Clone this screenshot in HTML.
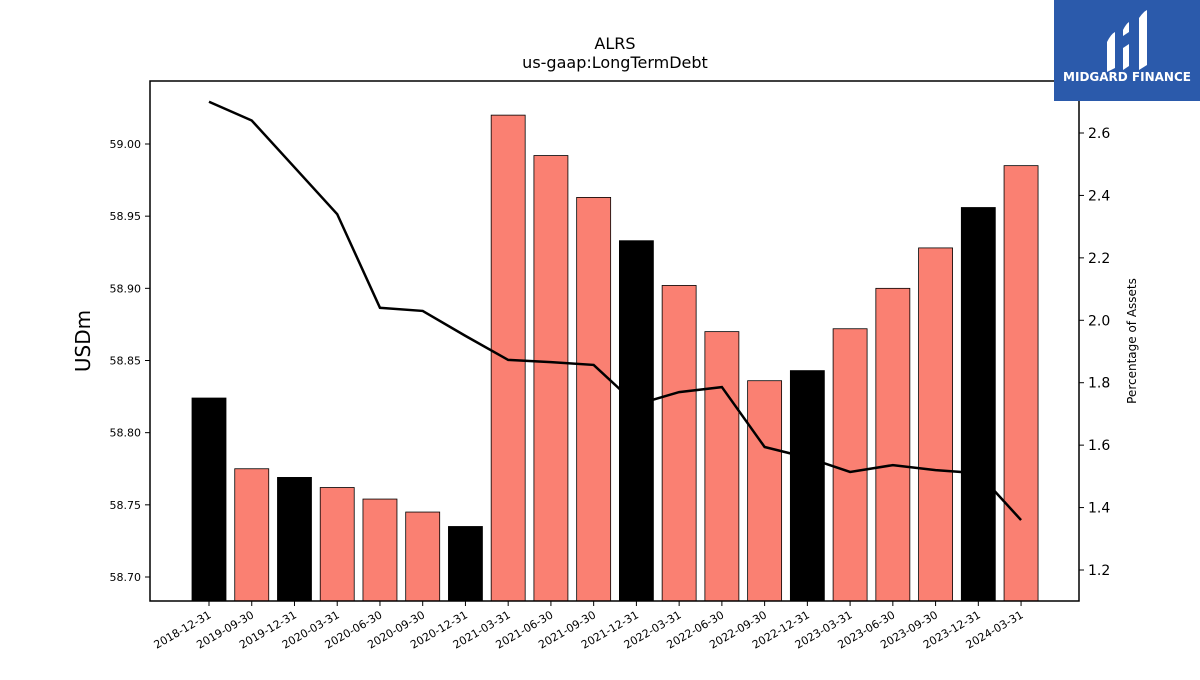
<!DOCTYPE html>
<html><head><meta charset="utf-8"><style>
body{margin:0;background:#fff;font-family:"Liberation Sans","DejaVu Sans",sans-serif;}
svg text{font-family:"DejaVu Sans","Liberation Sans",sans-serif;}
</style></head><body>
<svg id="c" width="1200" height="675" xmlns="http://www.w3.org/2000/svg">
<text x="615" y="49" text-anchor="middle" font-size="16">ALRS</text>
<text x="615" y="68" text-anchor="middle" font-size="16">us-gaap:LongTermDebt</text>
<g id="bars"></g>
<g id="line"></g>
<rect x="150" y="81" width="929" height="520" fill="none" stroke="#000" stroke-width="1.5"/>
<g id="axes"></g>
<text transform="translate(90,341) rotate(-90)" text-anchor="middle" font-size="20">USDm</text>
<text transform="translate(1136,341) rotate(-90)" text-anchor="middle" font-size="12">Percentage of Assets</text>
<g>
<rect x="1054" y="0" width="146" height="101" fill="#2b5aab"/>
<path d="M1107 42 q4 -8 8 -10 v36 l-8 4z M1123 30 q3 -6 6 -8 v10 l-6 4z M1123 48 l6 -4 v22 l-6 4z M1139 18 q4 -6 8 -8 v55 l-8 5z" fill="#fff"/>
<text x="1127" y="81" text-anchor="middle" font-size="12" font-weight="bold" fill="#fff" font-family="Liberation Sans, sans-serif">MIDGARD FINANCE</text>
</g>
</svg>
<script>
const categories=["2018-12-31","2019-09-30","2019-12-31","2020-03-31","2020-06-30","2020-09-30","2020-12-31","2021-03-31","2021-06-30","2021-09-30","2021-12-31","2022-03-31","2022-06-30","2022-09-30","2022-12-31","2023-03-31","2023-06-30","2023-09-30","2023-12-31","2024-03-31"];
const debtValues=[58.824,58.775,58.769,58.762,58.754,58.745,58.735,59.020,58.992,58.963,58.933,58.902,58.870,58.836,58.843,58.872,58.900,58.928,58.956,58.985];
const pctValues=[2.70,2.64,2.49,2.34,2.04,2.03,1.95,1.873,1.866,1.857,1.73,1.77,1.786,1.594,1.56,1.514,1.536,1.52,1.51,1.36];
const leftTicks=[58.70,58.75,58.80,58.85,58.90,58.95,59.00];
const rightTicks=[1.2,1.4,1.6,1.8,2.0,2.2,2.4,2.6];
const NS="http://www.w3.org/2000/svg";
const yL=v=>144+(59.00-v)*1443.33;
const yR=v=>133+(2.6-v)*312.14;
const xC=i=>209+i*42.74;
const bottom=601;
function mk(t,a,p){const e=document.createElementNS(NS,t);for(const k in a)e.setAttribute(k,a[k]);p.appendChild(e);return e;}
const bars=document.getElementById('bars'),line=document.getElementById('line'),axes=document.getElementById('axes');
debtValues.forEach((v,i)=>{
 const y=yL(v);
 const r=mk('rect',{x:xC(i)-17,y:y,width:34,height:bottom-y,fill:categories[i].endsWith('12-31')?'#000':'#fa8072',stroke:'#000','stroke-width':0.8},bars);
 
 
});
const pl=mk('polyline',{points:pctValues.map((v,i)=>xC(i)+','+yR(v)).join(' '),fill:'none',stroke:'#000','stroke-width':2.5},line);


leftTicks.forEach(v=>{
 const y=yL(v);
 mk('line',{x1:145,x2:150,y1:y,y2:y,stroke:'#000'},axes);
 const t=mk('text',{x:141,y:y+4,'text-anchor':'end','font-size':11},axes);t.textContent=v.toFixed(2);
 
 
});
rightTicks.forEach(v=>{
 const y=yR(v);
 mk('line',{x1:1079,x2:1084,y1:y,y2:y,stroke:'#000'},axes);
 const t=mk('text',{x:1088,y:y+5,'font-size':14},axes);t.textContent=v.toFixed(1);
 
 
});
categories.forEach((c,i)=>{
 const x=xC(i);
 mk('line',{x1:x,x2:x,y1:601,y2:606,stroke:'#000'},axes);
 const t=mk('text',{x:x+3,y:617,'text-anchor':'end','font-size':11,transform:`rotate(-30 ${x+3} 617)`},axes);t.textContent=c;
 
 
});
</script>
</body></html>
